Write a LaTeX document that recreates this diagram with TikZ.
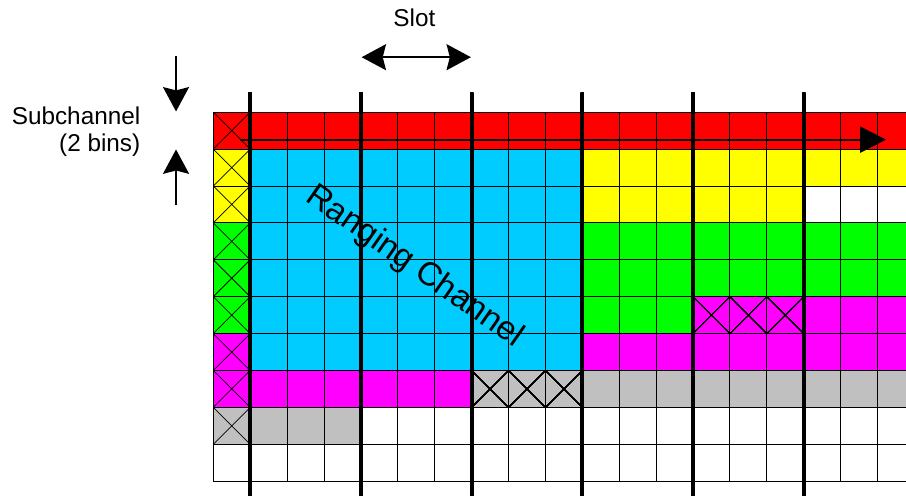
\documentclass[tikz,border=0pt]{standalone}
\usepackage{fontspec}
\setmainfont{Liberation Sans}
\usetikzlibrary{arrows.meta}

\definecolor{chancyan}{RGB}{0,204,255}
\definecolor{changray}{RGB}{192,192,192}
\definecolor{changreen}{RGB}{0,255,0}
\definecolor{chanyellow}{RGB}{255,255,0}
\definecolor{chanmagenta}{RGB}{255,0,255}
\definecolor{chanred}{RGB}{255,0,0}

\tikzset{
  gridline/.style={line width=0.6pt},
  crossline/.style={line width=0.45pt},
  slotline/.style={line width=2.5pt,line cap=round},
  bigarrow/.style={line width=1.3pt,-{Stealth[length=15pt,width=16pt,inset=2pt]}},
  labeltext/.style={font=\fontsize{15}{16.9}\selectfont,inner sep=0pt}
}

% cross out a single cell (column, row)
\newcommand{\crosscell}[2]{%
  \draw[crossline] (#1,-#2) -- (#1+1,-#2-1) (#1+1,-#2) -- (#1,-#2-1);}

\begin{document}
\begin{tikzpicture}[x=0.8cm,y=0.8cm]
\useasboundingbox (-5.78,3.04) rectangle (18.77,-10.40);
% colour blocks
\fill[chanred] (0,0) rectangle (19,-1);
\fill[chanyellow] (0,-1) rectangle (1,-3);
\fill[changreen] (0,-3) rectangle (1,-6);
\fill[chanmagenta] (0,-6) rectangle (1,-8);
\fill[changray] (0,-8) rectangle (1,-9);
\fill[chancyan] (1,-1) rectangle (10,-7);
\fill[chanyellow] (10,-1) rectangle (19,-2);
\fill[chanyellow] (10,-2) rectangle (16,-3);
\fill[changreen] (10,-3) rectangle (19,-5);
\fill[changreen] (10,-5) rectangle (13,-6);
\fill[chanmagenta] (13,-5) rectangle (19,-7);
\fill[chanmagenta] (10,-6) rectangle (19,-7);
\fill[chanmagenta] (1,-7) rectangle (7,-8);
\fill[changray] (7,-7) rectangle (19,-8);
\fill[changray] (1,-8) rectangle (4,-9);
% bins
\foreach \c in {0,...,19}
  \draw[gridline] (\c,0) -- (\c,-10);
\foreach \r in {0,...,10}
  \draw[gridline] (0,-\r) -- (19,-\r);
\foreach \r in {0,...,8}
  \crosscell{0}{\r}
\foreach \c in {13,14,15}
  \crosscell{\c}{5}
\foreach \c in {7,8,9}
  \crosscell{\c}{7}
% slot boundaries
\foreach \x in {1,4,...,16}
  \draw[slotline] (\x,0.48) -- (\x,-10.7);
% time axis
\coordinate (axisstart) at (0.72,-0.744);
\coordinate (axisend) at (18.23,-0.744);
\draw[line width=1.4pt,-{Triangle[length=16pt,width=16pt]}] (axisstart) -- (axisend);
% labels
\node[labeltext,anchor=base] (slot) at (5.45,2.31) {Slot};
\coordinate (slotleft) at (4.02,1.49);
\coordinate (slotright) at (6.98,1.49);
\draw[line width=1.2pt,{Stealth[length=15pt,width=16pt,inset=2pt]}-{Stealth[length=15pt,width=16pt,inset=2pt]}] (slotleft) -- (slotright);
\node[labeltext,anchor=north east,align=right] (subchannel) at (-1.97,0.157) {Subchannel\\(2 bins)};
\coordinate (downstart) at (-1.01,1.51);
\coordinate (downend) at (-1.01,0.02);
\coordinate (upstart) at (-1.01,-2.52);
\coordinate (upend) at (-1.01,-1.01);
\draw[bigarrow] (downstart) -- (downend);
\draw[bigarrow] (upstart) -- (upend);
\node[font=\fontsize{20.5}{22}\selectfont,rotate=-35,inner sep=0pt] (ranging) at (5.45,-4.2) {Ranging Channel};
\end{tikzpicture}
\end{document}
